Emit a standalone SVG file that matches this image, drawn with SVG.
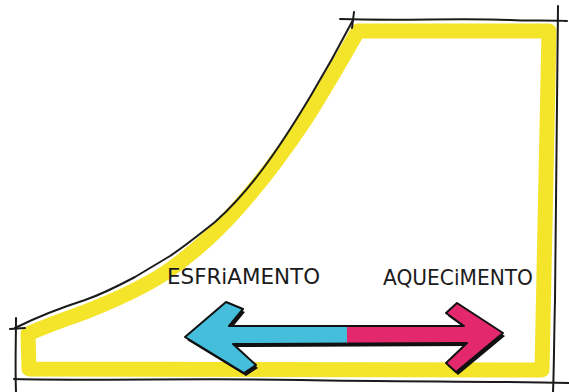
<svg xmlns="http://www.w3.org/2000/svg" width="569" height="392" viewBox="0 0 569 392">
  <style>
    .ink { fill: none; stroke: #1b1b1b; stroke-width: 2; stroke-linecap: round; stroke-linejoin: round; }
    .hl { fill: none; stroke: #F4E42A; stroke-width: 15; stroke-linejoin: round; }
    .lbl { font-family: "DejaVu Sans Condensed", "DejaVu Sans", "Liberation Sans", sans-serif; font-size: 22px; fill: #1b1b1b; }
    .outline { fill: none; stroke: #111; stroke-width: 2; stroke-linejoin: round; }
  </style>
  <rect width="569" height="392" fill="#ffffff"/>

  <g id="zone">
    <path class="hl" d="M29,369 L28,334 C50,324 70,318 90,310 C120,298 145,286 165,273 C190,256 215,234 238,208 C262,181 285,150 305,120 C322,94 340,62 358,31 L549,31 L542,370 Z"/>
  </g>

  <g id="frame">
    <path class="ink" d="M15,328 C35,318 60,308 85,300 C105,293 120,285 135,277 C150,268 160,262 170,256 C185,246 200,234 215,222 C235,204 250,186 262,170 C280,146 295,122 310,97 C325,72 340,45 353,20"/>
    <path class="ink" d="M340,19 C400,21 460,18 510,20 C530,21 550,20 567,21"/>
    <path class="ink" d="M354,12 L352,28"/>
    <path class="ink" d="M558,6 C557,100 556,200 555,300 C554,340 554,370 553,392"/>
    <path class="ink" d="M14,379 C100,381 200,378 300,380 C400,382 480,381 569,383"/>
    <path class="ink" d="M16,318 C16,340 15,365 16,392"/>
    <path class="ink" d="M10,329 L25,328"/>
  </g>

  <g id="arrow">
    <path transform="translate(2,3)" fill="#111" d="M185,337 L226,302 L243,309 L229,326 L464,326 L446,313 L457,303 L503,333 L456,372 L446,363 L467,343 L233,344 L256,365 L244,373 Z"/>
    <path fill="#45BEDC" d="M185,337 L226,302 L243,309 L229,326 L347,326 L347,343.5 L233,344 L256,365 L244,373 Z"/>
    <path fill="#E4286E" d="M347,326 L464,326 L446,313 L457,303 L503,333 L456,372 L446,363 L467,343 L347,343.5 Z"/>
    <path class="outline" d="M185,337 L226,302 L243,309 L229,326 L464,326 L446,313 L457,303 L503,333 L456,372 L446,363 L467,343 L233,344 L256,365 L244,373 Z"/>
  </g>

  <g id="label-esfriamento">
    <text class="lbl" x="167" y="284" textLength="153" lengthAdjust="spacingAndGlyphs">ESFRiAMENTO</text>
  </g>
  <g id="label-aquecimento">
    <text class="lbl" x="383" y="285" textLength="150" lengthAdjust="spacingAndGlyphs">AQUECiMENTO</text>
  </g>
</svg>
